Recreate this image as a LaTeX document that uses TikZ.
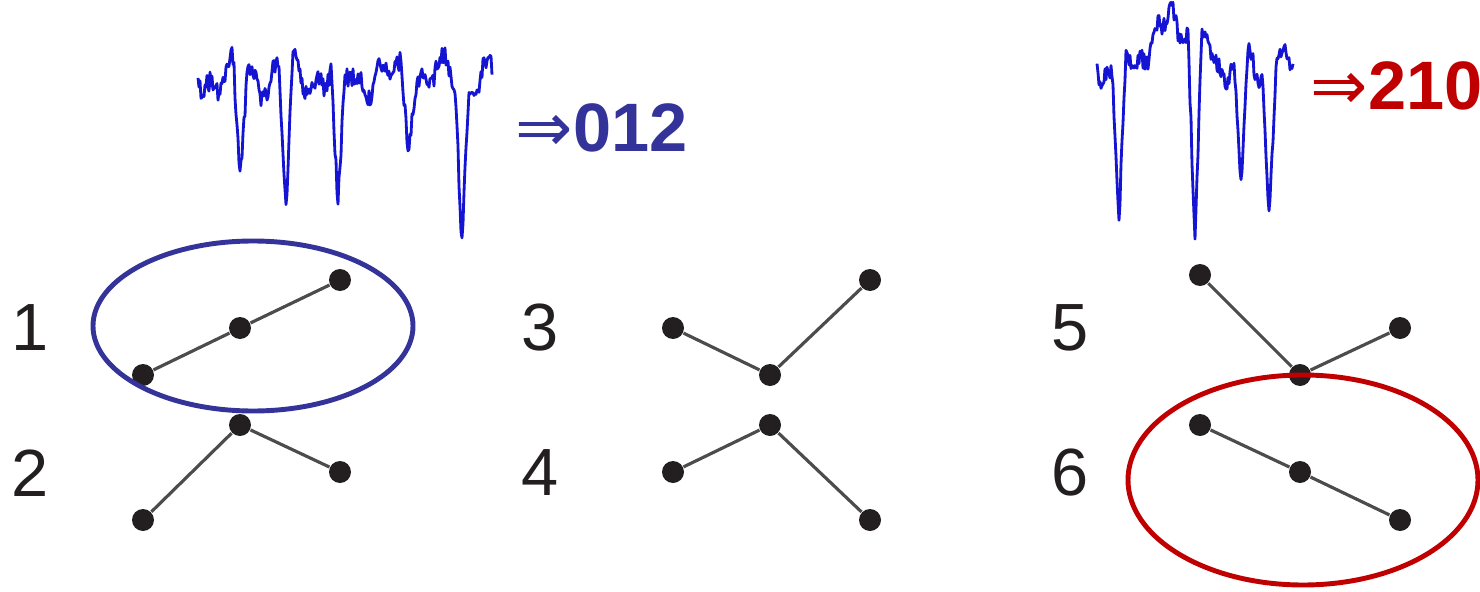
\documentclass[tikz,border=0pt]{standalone}
\usepackage{fontspec}
\setmainfont{Liberation Sans}
\newfontfamily\arrowfont{DejaVu Sans}
\usetikzlibrary{positioning}
\definecolor{ordblue}{RGB}{51,51,153}
\definecolor{ordred}{RGB}{192,0,0}
\definecolor{traceblue}{RGB}{20,20,210}
\definecolor{dotgray}{RGB}{35,31,32}

\begin{document}
\begin{tikzpicture}[
    dot/.style={circle, fill=dotgray, inner sep=0pt, minimum size=2.2mm},
    link/.style={draw=black!70, line width=0.9pt},
    num/.style={font=\fontsize{19}{19}\selectfont, text=dotgray},
    code/.style={font=\fontsize{19.5}{20}\selectfont\bfseries, anchor=west, inner sep=0pt},
    trace/.style={draw=traceblue, line width=0.8pt, line join=round},
    declare function={dip(\s,\m,\h)=\h*max(0,1-abs(\s-\m)/7);}
]
\useasboundingbox (0,0) rectangle (14.8,5.91);
\pgfmathsetseed{42}

%% signals (x from the left end, y in pixels of the figure)
\draw[trace, variable=\x, samples=295, domain=0:294]
  plot ({(\x+198)/100}, {(591 - (76 + 14*sin(7*\x) + 9*sin(17*\x+60) + 10*rand
     + dip(\x,42,110) + dip(\x,88,140) + dip(\x,140,155)
     + dip(\x,210,60) + dip(\x,264,165)))/100});
\draw[trace, variable=\x, samples=197, domain=0:196]
  plot ({(\x+1097)/100}, {(591 - (66 - 50*max(0,1-abs(\x-78)/45) + 12*sin(9*\x+20)
     + 7*sin(23*\x) + 10*rand
     + dip(\x,22,165) + dip(\x,98,200) + dip(\x,144,120)
     + dip(\x,172,135)))/100});

\node[code, text=ordblue] (c012) at (5.15,4.63) {{\arrowfont\mdseries ⇒}012};
\node[code, text=ordred]  (c210) at (13.10,5.05) {{\arrowfont\mdseries ⇒}210};

%% ordinal patterns
\node[num] (n1) at (0.30,2.63) {1};
\node[num] (n2) at (0.30,1.18) {2};
\node[num] (n3) at (5.40,2.63) {3};
\node[num] (n4) at (5.40,1.18) {4};
\node[num] (n5) at (10.70,2.63) {5};
\node[num] (n6) at (10.70,1.18) {6};

\node[dot] (p1a) at (1.43,2.16) {};
\node[dot] (p1b) at (2.40,2.63) {};
\node[dot] (p1c) at (3.40,3.11) {};
\node[dot] (p2a) at (1.43,0.71) {};
\node[dot] (p2b) at (2.40,1.66) {};
\node[dot] (p2c) at (3.40,1.19) {};

\node[dot] (p3a) at (6.73,2.63) {};
\node[dot] (p3b) at (7.70,2.16) {};
\node[dot] (p3c) at (8.70,3.11) {};
\node[dot] (p4a) at (6.73,1.19) {};
\node[dot] (p4b) at (7.70,1.66) {};
\node[dot] (p4c) at (8.70,0.71) {};

\node[dot] (p5a) at (12.00,3.16) {};
\node[dot] (p5b) at (13.00,2.16) {};
\node[dot] (p5c) at (14.00,2.63) {};
\node[dot] (p6a) at (12.00,1.66) {};
\node[dot] (p6b) at (13.00,1.19) {};
\node[dot] (p6c) at (14.00,0.71) {};

\foreach \k in {1,...,6}
  \draw[link] (p\k a) -- (p\k b) -- (p\k c);

%% marks
\draw[ordblue, line width=1.4pt] (2.53,2.65) ellipse [x radius=1.60, y radius=0.85];
\draw[ordred, line width=1.4pt] (13.03,1.11) ellipse [x radius=1.75, y radius=1.05];

\end{tikzpicture}
\end{document}
